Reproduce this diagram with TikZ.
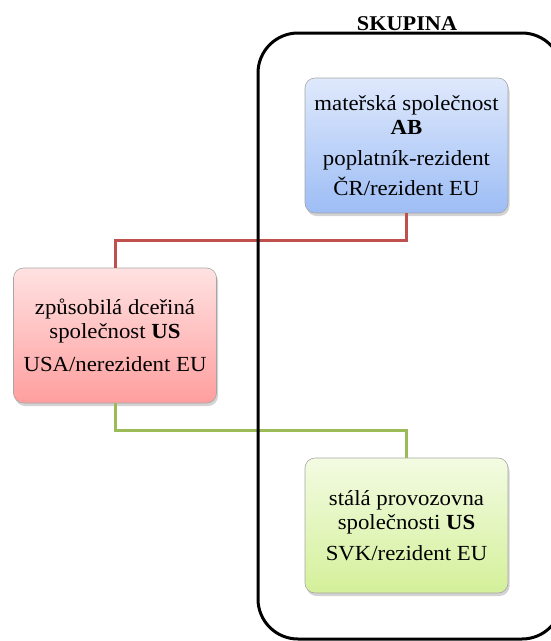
\documentclass[tikz,border=0pt]{standalone}
\usepackage{fontspec}
\setmainfont{Liberation Serif}[FakeStretch=1.06]
\usetikzlibrary{shadows}
\tikzset{
  entbox/.style={draw=black!35, line width=0.6pt, rounded corners=10pt,
    minimum width=203pt, minimum height=135pt, inner sep=0pt, align=center,
    font=\fontsize{21.5}{24}\selectfont,
    drop shadow={opacity=0.35, shadow xshift=1.5pt, shadow yshift=-3pt}},
  bluebox/.style={entbox, top color={rgb,255:red,223;green,233;blue,252}, bottom color={rgb,255:red,157;green,189;blue,245}},
  pinkbox/.style={entbox, top color={rgb,255:red,255;green,226;blue,226}, bottom color={rgb,255:red,255;green,158;blue,158}},
  greenbox/.style={entbox, top color={rgb,255:red,243;green,251;blue,226}, bottom color={rgb,255:red,212;green,240;blue,154}},
  redlink/.style={draw={rgb,255:red,192;green,80;blue,77}, line width=3pt},
  greenlink/.style={draw={rgb,255:red,155;green,187;blue,89}, line width=3pt},
  groupframe/.style={draw=black, line width=3pt, rounded corners=40pt},
}
\begin{document}
\begin{tikzpicture}[x=1pt,y=-1pt]
\useasboundingbox (0,0) rectangle (550,641);
\node[bluebox] (blue) at (406.5,145.5) {mateřská společnost\\ \textbf{AB}\\[7pt] poplatník-rezident\\[6pt] ČR/rezident EU};
\node[pinkbox] (pink) at (115,335.5) {způsobilá dceřiná\\ společnost \textbf{US}\\[9pt] USA/nerezident EU};
\node[greenbox] (green) at (406.5,525.5) {stálá provozovna\\ společnosti \textbf{US}\\[7pt] SVK/rezident EU};
\draw[redlink] (blue.south) -- ++(0,27) -| (pink.north);
\draw[greenlink] (pink.south) -- ++(0,27) -| (green.north);
\coordinate (gtl) at (258,33);
\coordinate (gbr) at (562,639);
\draw[groupframe] (gtl) rectangle (gbr);
\node[font=\bfseries\fontsize{21}{24}\selectfont, anchor=base] (title) at (407,30) {SKUPINA};
\end{tikzpicture}
\end{document}
